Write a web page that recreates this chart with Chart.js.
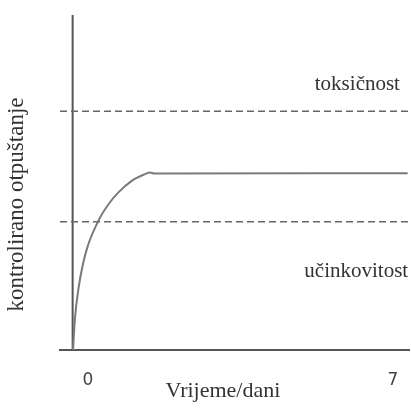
<!DOCTYPE html>
<html><head><meta charset="utf-8">
<script src="https://cdn.jsdelivr.net/npm/chart.js@4/dist/chart.umd.min.js"></script>
<style>html,body{margin:0;padding:0;background:#fff}#wrap{width:411px;height:409px}</style>
</head><body><div id="wrap"><canvas id="c" width="411" height="409"></canvas></div>
<script>
// ---- data ----
const releaseDays  = [-0.34, -0.30, -0.21, -0.05, 0.23, 0.46, 0.69, 1.03, 1.31, 1.42, 1.52, 7.34];
const releaseLevel = [0, 9.0, 18.8, 29.0, 38.3, 43.3, 46.9, 50.7, 52.5, 53.0, 52.7, 52.8];
const toxicityLevel = 71.3;
const efficacyLevel = 38.3;
const xTickValues = [0, 7];
const xRange = [-0.64, 7.37];
const yRange = [0, 104.5];
const yAxisDay = -0.35;
const yAxisTop = 100;
const toxicityText = 'toksičnost';
const efficacyText = 'učinkovitost';
const xTitleText = 'Vrijeme/dani';
const yTitleText = 'kontrolirano otpuštanje';
// label anchors in data units [day, level]
const toxicityAnchor = [6.185, 77.6];
const efficacyAnchor = [6.16, 21.9];
const xTitleAnchor = [3.10, -14.0];

const serif = "'Liberation Serif', 'DejaVu Serif', serif";
const textColor = '#333';

const textPlugin = {
  id: 'freeText',
  afterDraw(chart) {
    const {ctx, scales: {x, y}} = chart;
    ctx.save();
    ctx.fillStyle = textColor;
    ctx.textAlign = 'center';
    ctx.textBaseline = 'alphabetic';
    ctx.font = "21px " + serif;
    [[toxicityText, toxicityAnchor], [efficacyText, efficacyAnchor]].forEach(([t, a]) => {
      ctx.fillText(t, x.getPixelForValue(a[0]), y.getPixelForValue(a[1]));
    });
    ctx.font = "22px " + serif;
    ctx.fillText(xTitleText, x.getPixelForValue(xTitleAnchor[0]), y.getPixelForValue(xTitleAnchor[1]));
    ctx.restore();
  }
};

const hLine = (v) => [{x: xRange[0], y: v}, {x: xRange[1], y: v}];

new Chart(document.getElementById('c'), {
  type: 'line',
  data: {
    datasets: [
      {
        data: releaseDays.map((d, i) => ({x: d, y: releaseLevel[i]})),
        borderColor: '#7a7a7a', borderWidth: 2, pointRadius: 0,
        cubicInterpolationMode: 'monotone', fill: false
      },
      {
        data: hLine(toxicityLevel),
        borderColor: '#666', borderWidth: 1.5, borderDash: [7, 4], pointRadius: 0
      },
      {
        data: hLine(efficacyLevel),
        borderColor: '#666', borderWidth: 1.5, borderDash: [7, 4], pointRadius: 0
      },
      {
        data: [{x: yAxisDay, y: 0}, {x: yAxisDay, y: yAxisTop}],
        borderColor: '#555', borderWidth: 2, pointRadius: 0
      }
    ]
  },
  options: {
    responsive: false,
    devicePixelRatio: 1,
    animation: false,
    layout: {padding: {left: 0, right: 2, top: 0, bottom: 0}},
    plugins: {
      legend: {display: false},
      tooltip: {enabled: false},
      title: {
        display: true, position: 'left', text: yTitleText,
        color: textColor,
        font: {family: serif, size: 23, weight: 'normal'},
        padding: {top: 3, bottom: 29.4}
      }
    },
    scales: {
      x: {
        type: 'linear', min: xRange[0], max: xRange[1],
        grid: {display: false, drawTicks: false},
        border: {display: true, color: '#555', width: 2},
        afterBuildTicks: (s) => { s.ticks = xTickValues.map(v => ({value: v})); },
        afterFit: (s) => { s.height = 59; s.paddingLeft = 0; s.paddingRight = 0; },
        ticks: {
          padding: 20, color: '#444',
          font: {family: "'DejaVu Sans', sans-serif", size: 17}
        }
      },
      y: {
        type: 'linear', min: yRange[0], max: yRange[1],
        display: false
      }
    }
  },
  plugins: [textPlugin]
});
</script>
</body></html>
